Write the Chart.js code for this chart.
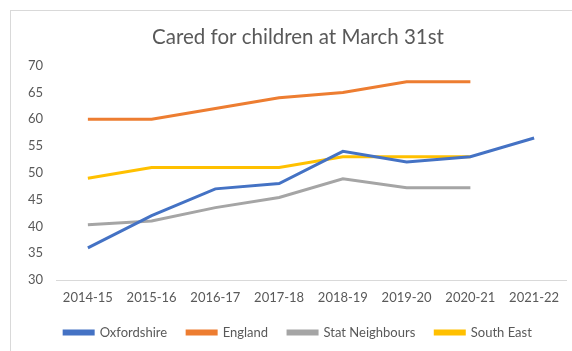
<!DOCTYPE html>
<html>
<head>
<meta charset="utf-8">
<script src="https://cdn.jsdelivr.net/npm/chart.js@4/dist/chart.umd.min.js"></script>
<style>
  html, body { margin: 0; padding: 0; background: #ffffff; overflow: hidden; }
  body { width: 572px; height: 351px; position: relative; }
  #frame {
    position: absolute; left: 10px; top: 10px; width: 600px; height: 360px;
    border: 1px solid #d9d9d9; box-sizing: border-box; background: #ffffff;
  }
  #wrap { position: absolute; left: 10px; top: 10px; width: 576px; height: 341px; }
</style>
</head>
<body>
<div id="frame"></div>
<div id="wrap"><canvas id="chart" width="576" height="341"></canvas></div>
<script>
// Looked-after children at 31 March, by area
const years = ['2014-15', '2015-16', '2016-17', '2017-18', '2018-19', '2019-20', '2020-21', '2021-22'];
const oxfordshire = [36, 42, 47, 48, 54, 52, 53, 56.5];
const england = [60, 60, 62, 64, 65, 67, 67, null];
const statNeighbours = [40.3, 41, 43.5, 45.4, 48.9, 47.2, 47.2, null];
const southEast = [49, 51, 51, 51, 53, 53, 53, null];
const yTicks = [30, 35, 40, 45, 50, 55, 60, 65, 70];

const textGrey = '#595959';
const font = 'Lato, "Open Sans", sans-serif';

function series(label, data, color) {
  return {
    label, data,
    borderColor: color, backgroundColor: color,
    borderWidth: 3, pointRadius: 0, tension: 0,
    spanGaps: false
  };
}

new Chart(document.getElementById('chart'), {
  type: 'line',
  data: {
    labels: years,
    datasets: [
      series('Oxfordshire', oxfordshire, '#4472C4'),
      series('England', england, '#ED7D31'),
      series('Stat Neighbours', statNeighbours, '#A5A5A5'),
      series('South East', southEast, '#FFC000')
    ]
  },
  options: {
    responsive: false,
    animation: false,
    layout: { padding: { top: 0, left: 0, right: 0, bottom: 2 } },
    plugins: {
      title: {
        display: true,
        text: 'Cared for children at March 31st',
        color: textGrey,
        font: { family: font, size: 20.5, weight: 'normal' },
        padding: { top: 15, bottom: 16 }
      },
      legend: {
        position: 'bottom',
        labels: {
          color: textGrey,
          font: { family: font, size: 13 },
          boxWidth: 29,
          boxHeight: 3,
          padding: 20
        }
      },
      tooltip: { enabled: false }
    },
    scales: {
      x: {
        offset: true,
        afterFit: (scale) => { scale.height = 26; },
        grid: { display: false, drawTicks: false, offset: true },
        border: { display: true, color: '#d9d9d9', width: 1 },
        ticks: { color: textGrey, font: { family: font, size: 13 }, padding: 10, maxRotation: 0, autoSkip: false }
      },
      y: {
        min: 30, max: 70,
        afterFit: (scale) => { scale.width = 46; },
        afterBuildTicks: (scale) => { scale.ticks = yTicks.map(v => ({ value: v })); },
        grid: { display: false, drawTicks: false },
        border: { display: false },
        ticks: { color: textGrey, font: { family: font, size: 13 }, padding: 13 }
      },
      // empty right-hand gutter so the plot stops short of the frame edge
      gutter: {
        type: 'linear',
        position: 'right',
        display: true,
        afterFit: (scale) => { scale.width = 20; },
        grid: { display: false, drawTicks: false },
        border: { display: false },
        ticks: { display: false }
      }
    }
  }
});
</script>
</body>
</html>
